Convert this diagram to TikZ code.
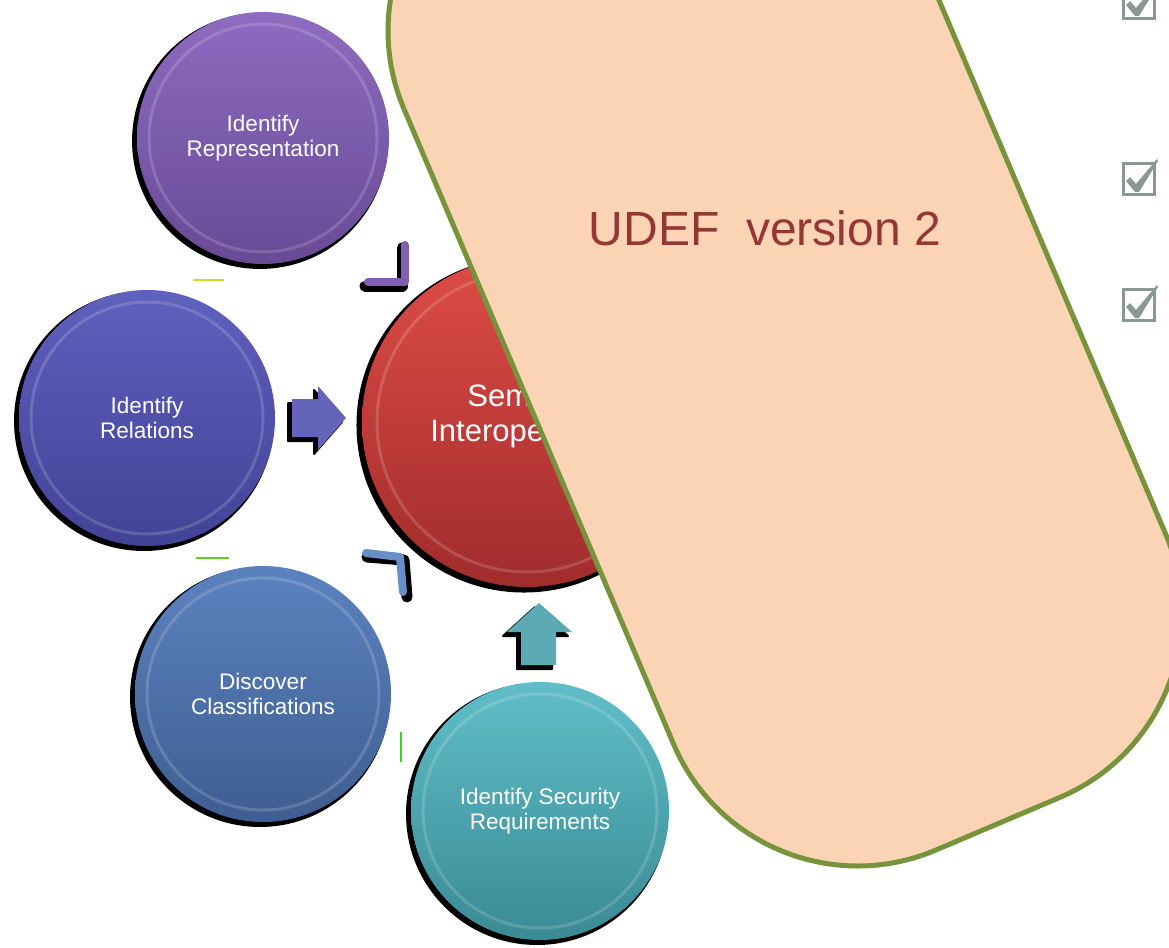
\documentclass[tikz,border=0pt]{standalone}
\usepackage{fontspec}
\setmainfont{Liberation Sans}
\usetikzlibrary{shadows}

% palette
\definecolor{repT}{RGB}{142,108,192}
\definecolor{repB}{RGB}{104,74,150}
\definecolor{relT}{RGB}{96,96,190}
\definecolor{relB}{RGB}{66,66,150}
\definecolor{disT}{RGB}{92,130,190}
\definecolor{disB}{RGB}{62,94,145}
\definecolor{secT}{RGB}{96,190,200}
\definecolor{secB}{RGB}{58,138,148}
\definecolor{semT}{RGB}{222,76,70}
\definecolor{semB}{RGB}{160,44,44}
\definecolor{arrowRel}{RGB}{100,100,184}
\definecolor{arrowSec}{RGB}{92,170,180}
\definecolor{chevRep}{RGB}{128,96,176}
\definecolor{chevDis}{RGB}{104,144,200}
\definecolor{peach}{RGB}{250,212,180}
\definecolor{olive}{RGB}{119,147,60}
\definecolor{udefred}{RGB}{149,55,53}
\definecolor{cbgrey}{RGB}{138,152,148}
\definecolor{limeA}{RGB}{200,225,40}
\definecolor{limeB}{RGB}{96,208,32}
\definecolor{limeC}{RGB}{64,208,32}

\tikzset{
  ball/.style={circle, inner sep=0pt, minimum size=#1, text=white, align=center,
    font=\fontsize{22.5}{24.5}\selectfont,
    general shadow={fill=black, shadow xshift=-3pt, shadow yshift=-3pt, shadow scale=1.015}},
  bevel/.style={draw=white, draw opacity=.16, line width=3pt},
  chevshade/.style={draw=black, line width=11pt, line cap=round, line join=round},
  chevline/.style={line width=8pt, line cap=round, line join=round},
  arrowshade/.style={fill=black, line join=round, draw=black, line width=2pt},
  pics/checkbox/.style={code={
    \draw[line width=3pt, cbgrey] (1.5,1.5) rectangle (32.5,32.5);
    \fill[cbgrey] (4,19) -- (8,15) -- (14,22) -- (35,-3) -- (36,-1) -- (17,30) -- (13,30) -- cycle;
  }}
}

\begin{document}
\begin{tikzpicture}[x=1pt,y=-1pt]
\useasboundingbox (0,0) rectangle (1169,947);
\clip (0,0) rectangle (1169,947);
\fill[white] (0,0) rectangle (1169,947);

% the four process circles and the central goal
\node[ball=252pt, top color=repT, bottom color=repB] (rep) at (263,138) {Identify\\Representation};
\node[ball=256pt, top color=relT, bottom color=relB] (rel) at (147,418) {Identify\\Relations};
\node[ball=256pt, top color=disT, bottom color=disB] (dis) at (263,694) {Discover\\Classifications};
\node[ball=258pt, top color=secT, bottom color=secB] (sec) at (540,811) {Identify Security\\Requirements};
\node[ball=330pt, top color=semT, bottom color=semB] (sem) at (527,422) {};
\node[text=white, align=center, font=\fontsize{31}{35}\selectfont] (semtxt) at (532,416) {Semantic\\Interoperability};

% inner bevel rings
\draw[bevel] (rep.center) circle (114pt);
\draw[bevel] (rel.center) circle (116pt);
\draw[bevel] (dis.center) circle (116pt);
\draw[bevel] (sec.center) circle (117pt);
\draw[bevel] (sem.center) circle (150pt);

% block arrow from Identify Relations into the goal
\begin{scope}[shift={(-4,4)}]
  \filldraw[arrowshade] (292,399) -- (318,399) -- (318,386) -- (346,418) -- (318,450) -- (318,437) -- (292,437) -- cycle;
\end{scope}
\fill[arrowRel] (292,399) -- (318,399) -- (318,386) -- (346,418) -- (318,450) -- (318,437) -- (292,437) -- cycle;

% block arrow from Identify Security Requirements into the goal
\begin{scope}[shift={(-4,4)}]
  \filldraw[arrowshade] (521,665) -- (521,632) -- (507,632) -- (539,603) -- (572,632) -- (556,632) -- (556,665) -- cycle;
\end{scope}
\fill[arrowSec] (521,665) -- (521,632) -- (507,632) -- (539,603) -- (572,632) -- (556,632) -- (556,665) -- cycle;

% corner chevrons
\draw[chevshade] (365,286) -- (402,286) -- (402,248);
\draw[chevline, chevRep] (368,282) -- (405,282) -- (405,245);
\draw[chevshade] (367,557) -- (404,560) -- (407,597);
\draw[chevline, chevDis] (366,553) -- (400,557) -- (403,592);

% small accent strokes
\draw[line width=2.5pt, limeA] (193,280) -- (224,280);
\draw[line width=2.5pt, limeB] (196,558) -- (229,558);
\draw[line width=2pt, limeC] (401,732) -- (401,762);

% tilted UDEF panel
\node[draw=olive, fill=peach, line width=5pt, rectangle, rounded corners=200pt,
      minimum width=535pt, minimum height=1090pt, rotate=23] (udef) at (785,322) {};
\node[text=udefred, font=\fontsize{48}{58}\selectfont] (title) at (765,228) {UDEF\ \ version 2};

% check boxes
\pic at (1122,-14) {checkbox};
\pic at (1122,162) {checkbox};
\pic at (1122,288) {checkbox};
\end{tikzpicture}
\end{document}
